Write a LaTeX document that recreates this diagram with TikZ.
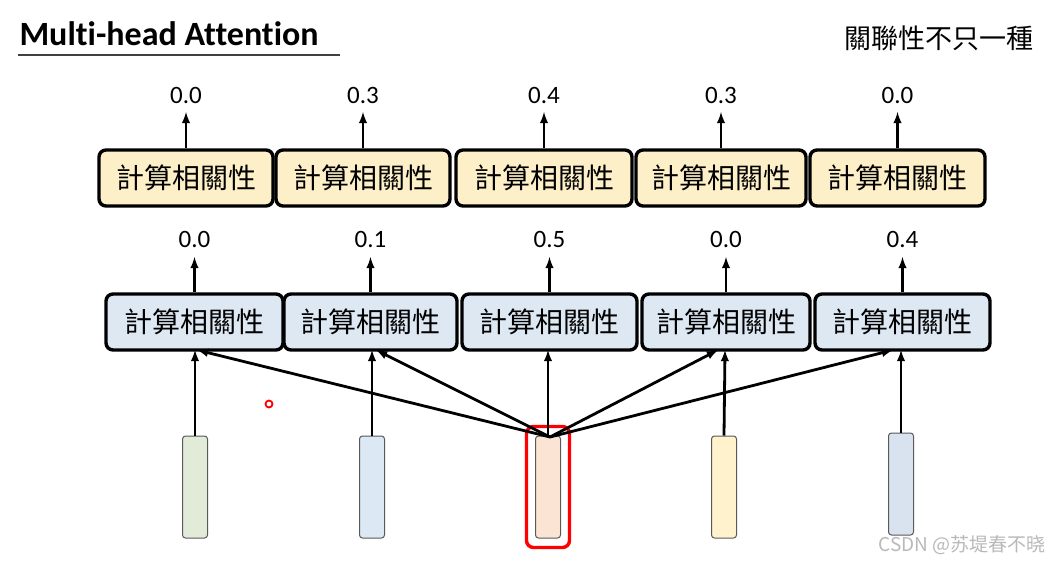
\documentclass[tikz,border=0pt]{standalone}
\usepackage{fontspec}
\setmainfont{Carlito}[Ligatures={NoCommon}]
\newfontfamily\cjk{Noto Sans CJK TC}
\definecolor{ybg}{HTML}{FDF0C8}
\definecolor{bbg}{HTML}{DDE8F3}
\definecolor{v1c}{HTML}{E2EBD8}
\definecolor{v2c}{HTML}{DCE8F4}
\definecolor{v3c}{HTML}{FCE4D4}
\definecolor{v4c}{HTML}{FFF2CC}
\definecolor{v5c}{HTML}{D9E2EF}
\begin{document}
\begin{tikzpicture}[x=1pt,y=-1pt,
  box/.style={draw=black,line width=3.4pt,rounded corners=7pt,inner sep=0pt,font=\cjk\fontsize{28}{28}\selectfont},
  ybox/.style={box,fill=ybg},
  bbox/.style={box,fill=bbg},
  num/.style={font=\fontsize{25}{25}\selectfont},
  vec/.style={draw=gray!70!black,line width=1pt,rounded corners=3pt,minimum width=25pt,minimum height=102pt,inner sep=0pt},
  arr/.style={-latex,line width=2.8pt}]
\useasboundingbox (0,0) rectangle (1051,562);
\fill[white] (0,0) rectangle (1051,562);
\node[anchor=west,font=\bfseries\fontsize{34}{34}\selectfont] (title) at (16,34) {Multi-head Attention};
\draw[line width=1.4pt,gray!50!black] (18,55) -- (340,55);
\node[anchor=east,font=\cjk\fontsize{27}{27}\selectfont] (sub) at (1037,38) {關聯性不只一種};
% yellow row
\foreach \i/\a/\b/\v in {1/99/273/0.0,2/276/450/0.3,3/456/632/0.4,4/636/806/0.3,5/810/985/0.0}{
  \node[ybox,minimum width={\b-\a},minimum height=56pt] (y\i) at ({(\a+\b)/2},178) {計算相關性};
  \coordinate (yt\i) at ({(\a+\b)/2},112);
  \draw[arr] (y\i.north) -- (yt\i);
  \node[num] (yn\i) at ({(\a+\b)/2},95) {\v};
}
% blue row
\foreach \i/\a/\b/\v in {1/106/283/0.0,2/284/457/0.1,3/462/637/0.5,4/642/810/0.0,5/815/990/0.4}{
  \node[bbox,minimum width={\b-\a},minimum height=56pt] (b\i) at ({(\a+\b)/2},322) {計算相關性};
  \coordinate (bt\i) at ({(\a+\b)/2},257);
  \draw[arr] (b\i.north) -- (bt\i);
  \node[num] (bn\i) at ({(\a+\b)/2},239) {\v};
}
% vectors
\node[vec,fill=v1c] (v1) at (195,487) {};
\node[vec,fill=v2c] (v2) at (372,487) {};
\node[vec,fill=v3c] (v3) at (548,487) {};
\node[vec,fill=v4c] (v4) at (724,487) {};
\node[vec,fill=v5c] (v5) at (901,484) {};
\node[draw=red,line width=3.4pt,rounded corners=7pt,minimum width=43pt,minimum height=121pt] (sel) at (548,487) {};
\foreach \i/\x in {1/195,2/372,4/725,5/901}{
  \draw[arr] (v\i.north) -- (\x,350);
}
\coordinate (c) at (550,437);
\draw[arr] (c) -- (197,350);
\draw[arr] (c) -- (376,350);
\draw[arr] (548,436) -- (548,350);
\draw[arr] (c) -- (718,350);
\draw[arr] (c) -- (893,350);
\node[circle,draw=red,line width=1.8pt,fill=white,minimum size=7pt,inner sep=0pt] (dot) at (269,404) {};
\node[anchor=east,text=gray!55,font=\cjk\fontsize{19}{19}\selectfont] (wm) at (1049,545) {CSDN @苏堤春不晓};
\end{tikzpicture}
\end{document}
